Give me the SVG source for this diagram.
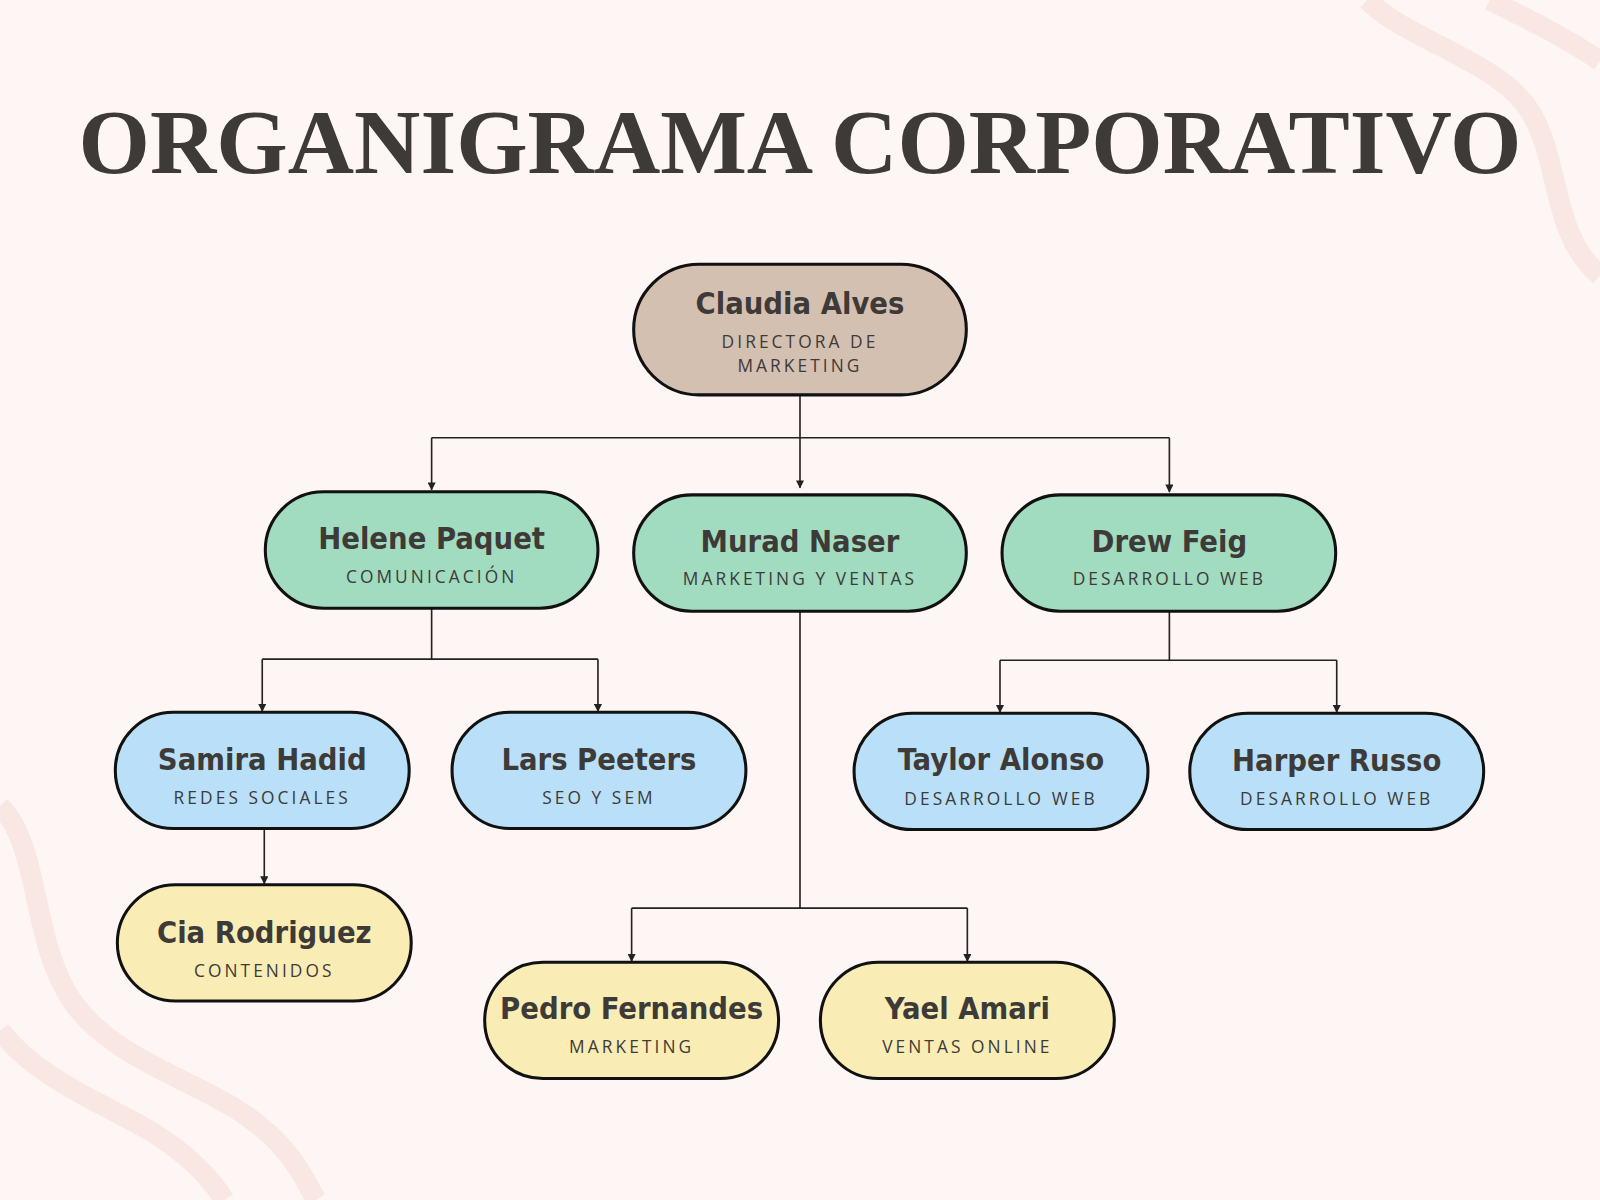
<svg xmlns="http://www.w3.org/2000/svg" width="1600" height="1200" viewBox="0 0 1600 1200">
<defs>
<style>
.n{stroke:#111;stroke-width:3}
.t{font-family:"DejaVu Sans Condensed","DejaVu Sans",sans-serif;font-weight:bold;font-size:30px;fill:#3d3a38;text-anchor:middle}
.s{font-family:"Open Sans","Liberation Sans",sans-serif;font-size:17px;letter-spacing:3px;fill:#3d3a38;text-anchor:middle}
.c{stroke:#222;stroke-width:1.6;fill:none}
.w{stroke:#f9e7e4;stroke-width:20;fill:none}
</style>
<marker id="a" viewBox="0 0 10 10" refX="9" refY="5" markerWidth="5" markerHeight="5" orient="auto"><path d="M0,0L10,5L0,10z" fill="#222"/></marker>
</defs>
<rect width="1600" height="1200" fill="#fdf6f4"/>
<g transform="scale(1.0204)">
<path class="w" d="M1340,0 C1380,40 1470,60 1500,110 C1530,160 1520,230 1568,270"/>
<path class="w" d="M1460,0 C1500,20 1540,40 1568,60"/>
<path class="w" d="M0,790 C40,830 30,920 70,980 C110,1040 200,1060 250,1100 C290,1130 300,1160 310,1176"/>
<path class="w" d="M0,1010 C40,1060 100,1080 150,1110 C190,1135 210,1160 220,1176"/>
<text x="784" y="170" font-family="'Liberation Serif','DejaVu Serif',serif" font-weight="bold" font-size="90" fill="#3d3a38" text-anchor="middle">ORGANIGRAMA CORPORATIVO</text>
<g id="connectors">
<path class="c" d="M784,387V478" marker-end="url(#a)"/>
<path class="c" d="M423,429H1146"/>
<path class="c" d="M423,429V480" marker-end="url(#a)"/>
<path class="c" d="M1146,429V482" marker-end="url(#a)"/>
<path class="c" d="M423,596V646M257,646H586"/>
<path class="c" d="M257,646V697" marker-end="url(#a)"/>
<path class="c" d="M586,646V697" marker-end="url(#a)"/>
<path class="c" d="M259,812V866" marker-end="url(#a)"/>
<path class="c" d="M784,599V890M619,890H948"/>
<path class="c" d="M619,890V942" marker-end="url(#a)"/>
<path class="c" d="M948,890V942" marker-end="url(#a)"/>
<path class="c" d="M1146,599V647M980,647H1310"/>
<path class="c" d="M980,647V698" marker-end="url(#a)"/>
<path class="c" d="M1310,647V698" marker-end="url(#a)"/>
</g>
<g id="claudia"><rect class="n" x="621" y="259" width="326" height="128" rx="64" fill="#d4c0b1"/><text class="t" x="784" y="308">Claudia Alves</text><text class="s" x="784" y="341">DIRECTORA DE</text><text class="s" x="784" y="365">MARKETING</text></g>
<g id="helene"><rect class="n" x="260" y="482" width="326" height="114" rx="57" fill="#a1dcc0"/><text class="t" x="423" y="538">Helene Paquet</text><text class="s" x="423" y="571">COMUNICACIÓN</text></g>
<g id="murad"><rect class="n" x="621" y="485" width="326" height="114" rx="57" fill="#a1dcc0"/><text class="t" x="784" y="541">Murad Naser</text><text class="s" x="784" y="573">MARKETING Y VENTAS</text></g>
<g id="drew"><rect class="n" x="982" y="485" width="327" height="114" rx="57" fill="#a1dcc0"/><text class="t" x="1146" y="541">Drew Feig</text><text class="s" x="1146" y="573">DESARROLLO WEB</text></g>
<g id="samira"><rect class="n" x="113" y="698" width="288" height="114" rx="57" fill="#b9e0f8"/><text class="t" x="257" y="755">Samira Hadid</text><text class="s" x="257" y="788">REDES SOCIALES</text></g>
<g id="lars"><rect class="n" x="443" y="698" width="288" height="114" rx="57" fill="#b9e0f8"/><text class="t" x="587" y="755">Lars Peeters</text><text class="s" x="587" y="788">SEO Y SEM</text></g>
<g id="taylor"><rect class="n" x="837" y="699" width="288" height="114" rx="57" fill="#b9e0f8"/><text class="t" x="981" y="755">Taylor Alonso</text><text class="s" x="981" y="789">DESARROLLO WEB</text></g>
<g id="harper"><rect class="n" x="1166" y="699" width="288" height="114" rx="57" fill="#b9e0f8"/><text class="t" x="1310" y="756">Harper Russo</text><text class="s" x="1310" y="789">DESARROLLO WEB</text></g>
<g id="cia"><rect class="n" x="115" y="867" width="288" height="114" rx="57" fill="#f9edb5"/><text class="t" x="259" y="924">Cia Rodriguez</text><text class="s" x="259" y="957">CONTENIDOS</text></g>
<g id="pedro"><rect class="n" x="475" y="943" width="288" height="114" rx="57" fill="#f9edb5"/><text class="t" x="619" y="999">Pedro Fernandes</text><text class="s" x="619" y="1032">MARKETING</text></g>
<g id="yael"><rect class="n" x="804" y="943" width="288" height="114" rx="57" fill="#f9edb5"/><text class="t" x="948" y="999">Yael Amari</text><text class="s" x="948" y="1032">VENTAS ONLINE</text></g>
</g>
</svg>
